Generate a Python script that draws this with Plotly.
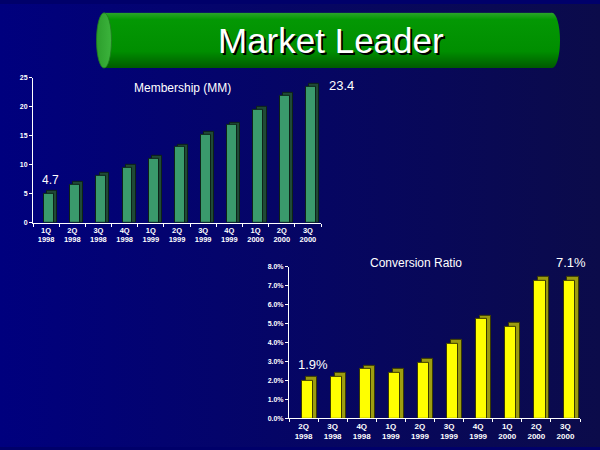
import base64
import plotly.graph_objects as go

# ---------------- data ----------------
member_q = ["1Q<br>1998", "2Q<br>1998", "3Q<br>1998", "4Q<br>1998", "1Q<br>1999", "2Q<br>1999",
            "3Q<br>1999", "4Q<br>1999", "1Q<br>2000", "2Q<br>2000", "3Q<br>2000"]
member_vals = [5.0, 6.5, 8.1, 9.5, 11.0, 13.0, 15.1, 16.8, 19.5, 21.9, 23.5]
member_first_label = "4.7"
member_last_label = "23.4"

conv_q = ["2Q<br>1998", "3Q<br>1998", "4Q<br>1998", "1Q<br>1999", "2Q<br>1999",
          "3Q<br>1999", "4Q<br>1999", "1Q<br>2000", "2Q<br>2000", "3Q<br>2000"]
conv_vals = [0.020, 0.022, 0.026, 0.024, 0.0294, 0.0393, 0.0523, 0.0483, 0.0727, 0.0727]
conv_first_label = "1.9%"
conv_last_label = "7.1%"

W, H = 600, 450
FONT = "Arial, Liberation Sans, sans-serif"
TICKFONT = "Liberation Sans Narrow, Arial Narrow, Arial, sans-serif"

def px(x):
    return x / W

def py(y):
    return 1 - y / H

# ---------------- background / banner images ----------------
bg_svg = f"""<svg xmlns='http://www.w3.org/2000/svg' width='{W}' height='{H}' viewBox='0 0 {W} {H}' preserveAspectRatio='none'>
<defs><linearGradient id='g' x1='0' y1='0' x2='1' y2='0'>
<stop offset='0' stop-color='#00007e'/><stop offset='1' stop-color='#0b0b4a'/></linearGradient></defs>
<rect x='0' y='0' width='{W}' height='{H}' fill='url(#g)'/></svg>"""

banner_svg = """<svg xmlns='http://www.w3.org/2000/svg' width='466' height='58' viewBox='0 0 466 58' preserveAspectRatio='none'>
<defs>
<linearGradient id='b' x1='0' y1='0' x2='0' y2='1'>
<stop offset='0' stop-color='#2aa42a'/><stop offset='0.12' stop-color='#049804'/>
<stop offset='0.7' stop-color='#008e00'/><stop offset='1' stop-color='#005a00'/></linearGradient>
<linearGradient id='e' x1='0' y1='0' x2='1' y2='0'>
<stop offset='0' stop-color='#2c9e2c'/><stop offset='1' stop-color='#3cb43c'/></linearGradient>
</defs>
<rect x='8' y='1' width='448' height='56' fill='url(#b)'/>
<ellipse cx='456' cy='29' rx='8' ry='28' fill='url(#b)'/>
<ellipse cx='8' cy='29' rx='7.5' ry='28' fill='url(#e)' stroke='#1f7a1f' stroke-width='0.8'/>
</svg>"""

def uri(svg):
    return "data:image/svg+xml;base64," + base64.b64encode(svg.encode()).decode()

# ---------------- figure ----------------
fig = go.Figure()

# membership: 3D look with a darker offset bar behind the front bar
m_depth = 0.5
fig.add_trace(go.Bar(x=member_q, y=[v + m_depth for v in member_vals], xaxis="x", yaxis="y",
                     width=0.38, offset=0.04, marker=dict(color="#1f4a36", line=dict(color="#0d2218", width=1)),
                     hoverinfo="skip", showlegend=False))
fig.add_trace(go.Bar(x=member_q, y=member_vals, xaxis="x", yaxis="y",
                     width=0.38, offset=-0.08, marker=dict(color="#3a9a6c", line=dict(color="#0d2218", width=1)),
                     showlegend=False))

c_depth = 0.002
fig.add_trace(go.Bar(x=conv_q, y=[v + c_depth for v in conv_vals], xaxis="x2", yaxis="y2",
                     width=0.38, offset=0.07, marker=dict(color="#9c9c10", line=dict(color="#3a3a00", width=1)),
                     hoverinfo="skip", showlegend=False))
fig.add_trace(go.Bar(x=conv_q, y=conv_vals, xaxis="x2", yaxis="y2",
                     width=0.38, offset=-0.065, marker=dict(color="#ffff00", line=dict(color="#3a3a00", width=1)),
                     showlegend=False))

axis_common = dict(showgrid=False, zeroline=False, showline=True, linecolor="white", linewidth=1,
                   ticks="outside", tickcolor="white", ticklen=3, tickwidth=1)

fig.update_layout(
    width=W, height=H, autosize=False,
    margin=dict(l=0, r=0, t=0, b=0),
    paper_bgcolor="#00006a", plot_bgcolor="rgba(0,0,0,0)",
    barmode="overlay", bargap=0,
    xaxis=dict(domain=[px(33), px(321)], anchor="y", tickson="boundaries", tickangle=0,
               tickfont=dict(family=TICKFONT, size=7.5, color="white", weight="bold"), **axis_common),
    yaxis=dict(domain=[py(222), py(75)], anchor="x", range=[0, 25], dtick=5,
               tickfont=dict(family=TICKFONT, size=7, color="white", weight="bold"), **axis_common),
    xaxis2=dict(domain=[px(289), px(580)], anchor="y2", tickson="boundaries", tickangle=0,
                tickfont=dict(family=TICKFONT, size=8, color="white", weight="bold"), **axis_common),
    yaxis2=dict(domain=[py(421), py(267)], anchor="x2", range=[0, 0.08], dtick=0.01, tickformat=".1%",
                tickfont=dict(family=TICKFONT, size=7, color="white", weight="bold"), **axis_common),
    images=[
        dict(source=uri(bg_svg), xref="paper", yref="paper", x=0, y=1, sizex=1, sizey=1,
             sizing="stretch", layer="below", xanchor="left", yanchor="top"),
        dict(source=uri(banner_svg), xref="paper", yref="paper", x=px(96), y=py(8),
             sizex=px(562) - px(96), sizey=py(8) - py(66),
             sizing="stretch", layer="below", xanchor="left", yanchor="top"),
    ],
)

def note(text, x, y, size, **kw):
    fig.add_annotation(text=text, xref="paper", yref="paper", x=px(x), y=py(y),
                       xanchor="center", yanchor="middle", showarrow=False,
                       font=dict(family=FONT, size=size, color="white", **kw))

note("Market Leader", 331, 37, 35, shadow="2px 2px 0px #000000")
note("Membership (MM)", 182, 85, 12)
note(member_first_label, 50, 179, 12)
note(member_last_label, 341, 83, 13)
note("Conversion Ratio", 416, 263, 12)
note(conv_last_label, 571, 263, 13)
note(conv_first_label, 313, 366, 13)

fig.write_html("out.html", config={"displayModeBar": False},
               post_script="document.body.style.margin='0';document.body.style.padding='0';"
                           "document.body.style.background='#00006a';")
